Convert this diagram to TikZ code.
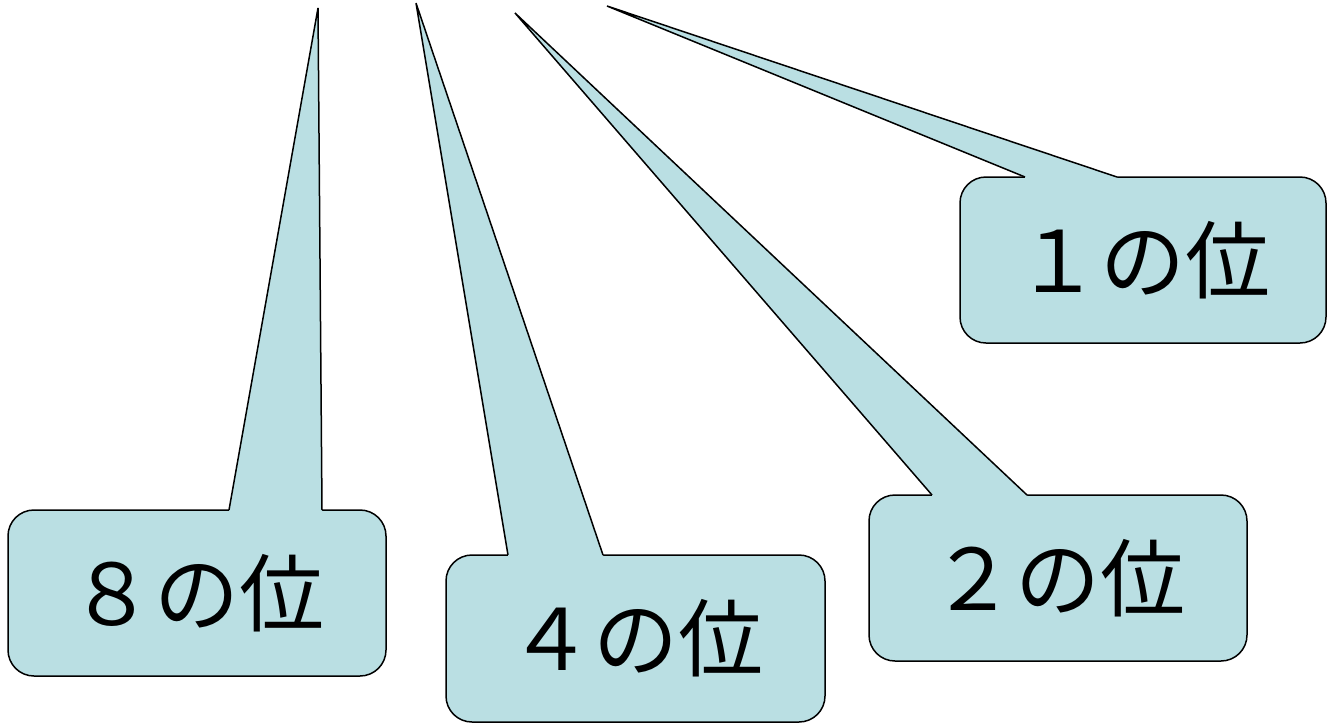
\documentclass[tikz,border=0pt]{standalone}
\usepackage{fontspec}
\newfontfamily\jpfont{Noto Sans CJK JP}
\usetikzlibrary{calc}
\definecolor{bubblefill}{RGB}{186,223,227}

\begin{document}
\begin{tikzpicture}[x=1pt,y=-1pt]  % 1 unit = 1 pixel of the layout, y grows downwards

    % Define some common styles
    \tikzset{
        bubble/.style={draw=black, line width=1.5pt, fill=bubblefill, rounded corners=26pt, inner sep=0pt,
            font=\jpfont\fontsize{85}{85}\selectfont},
        pointer/.style={draw=black, line width=1.5pt, line join=miter},
        pointerfill/.style={fill=bubblefill}
    }

    \useasboundingbox (0,0) rectangle (1328,724);

    % Boxes of the four callouts
    \node[bubble, minimum width=378pt, minimum height=166pt] (eight) at (197,593) {８の位};
    \node[bubble, minimum width=379pt, minimum height=167pt] (four) at (635.5,638.5) {４の位};
    \node[bubble, minimum width=378pt, minimum height=166pt] (two) at (1058,578) {２の位};
    \node[bubble, minimum width=366pt, minimum height=166pt] (one) at (1143,260) {１の位};

    % Tips and base points of the pointers
    \coordinate (eighttip) at (318,8);
    \coordinate (eighta) at (229,510);
    \coordinate (eightb) at (322,510);

    \coordinate (fourtip) at (416,3);
    \coordinate (foura) at (508,555);
    \coordinate (fourb) at (603,555);

    \coordinate (twotip) at (515,13);
    \coordinate (twoa) at (932,495);
    \coordinate (twob) at (1027,495);

    \coordinate (onetip) at (607,6);
    \coordinate (onea) at (1025,177);
    \coordinate (oneb) at (1117,177);

    % Pointer wedges (fill hides the top line of the box under the base)
    \fill[pointerfill] (eighta) -- (eighttip) -- (eightb) -- ($(eightb)+(0,3)$) -- ($(eighta)+(0,3)$) -- cycle;
    \draw[pointer] (eighta) -- (eighttip) -- (eightb);

    \fill[pointerfill] (foura) -- (fourtip) -- (fourb) -- ($(fourb)+(0,3)$) -- ($(foura)+(0,3)$) -- cycle;
    \draw[pointer] (foura) -- (fourtip) -- (fourb);

    \fill[pointerfill] (twoa) -- (twotip) -- (twob) -- ($(twob)+(0,3)$) -- ($(twoa)+(0,3)$) -- cycle;
    \draw[pointer] (twoa) -- (twotip) -- (twob);

    \fill[pointerfill] (onea) -- (onetip) -- (oneb) -- ($(oneb)+(0,3)$) -- ($(onea)+(0,3)$) -- cycle;
    \draw[pointer] (onea) -- (onetip) -- (oneb);

\end{tikzpicture}
\end{document}
